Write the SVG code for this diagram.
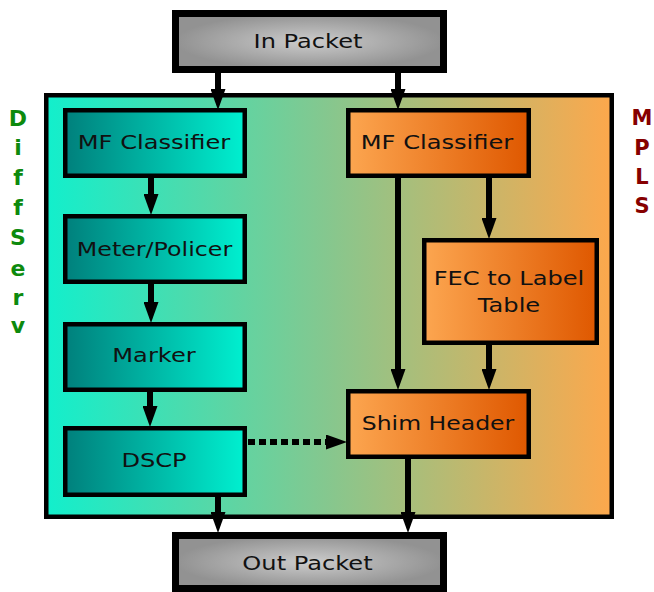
<svg xmlns="http://www.w3.org/2000/svg" width="654" height="592" viewBox="0 0 654 592">
<defs>
<linearGradient id="gBg" x1="0" y1="0" x2="1" y2="0">
<stop offset="0" stop-color="#12efcc"/>
<stop offset="0.5" stop-color="#86c78e"/>
<stop offset="1" stop-color="#fda84c"/>
</linearGradient>
<linearGradient id="gTeal" x1="0" y1="0" x2="1" y2="0">
<stop offset="0" stop-color="#00807c"/>
<stop offset="1" stop-color="#00f0d0"/>
</linearGradient>
<linearGradient id="gOrange" x1="0" y1="0" x2="1" y2="0">
<stop offset="0" stop-color="#fca650"/>
<stop offset="1" stop-color="#df5800"/>
</linearGradient>
<radialGradient id="gGray" cx="0.5" cy="0.5" r="0.5">
<stop offset="0" stop-color="#cccccc"/>
<stop offset="1" stop-color="#929292"/>
</radialGradient>
<marker id="ah" markerUnits="userSpaceOnUse" markerWidth="21" markerHeight="15" refX="0" refY="7.5" orient="auto">
<path d="M0,0 L21,7.5 L0,15 z" fill="#000"/>
</marker>
<style>
.box{stroke:#000;stroke-width:4.5}
.pkt{fill:url(#gGray);stroke:#000;stroke-width:7}
.teal{fill:url(#gTeal)}
.org{fill:url(#gOrange)}
.lbl{font-family:"DejaVu Sans",Verdana,sans-serif;font-size:19px;fill:#111;text-anchor:middle}
.side{font-family:"DejaVu Sans",Verdana,sans-serif;font-weight:bold;text-anchor:middle}
.ds{font-size:22px;fill:#0d8a0d}
.mp{font-size:21px;fill:#860000}
.c{stroke:#000;stroke-width:6;fill:none;marker-end:url(#ah)}
.dot{stroke-dasharray:7 4}
</style>
</defs>
<rect x="0" y="0" width="654" height="592" fill="#fff"/>
<g id="container">
<rect x="46.25" y="95.25" width="565.5" height="421.5" fill="url(#gBg)" stroke="#000" stroke-width="4.5"/>
</g>
<g id="in-packet">
<rect class="pkt" x="175.5" y="13.5" width="268" height="56"/>
<text class="lbl" transform="translate(308,48) scale(1.27,1)">In Packet</text>
</g>
<g id="out-packet">
<rect class="pkt" x="175.5" y="535.5" width="268" height="53"/>
<text class="lbl" transform="translate(307.5,570) scale(1.27,1)">Out Packet</text>
</g>
<g id="ds-mf">
<rect class="box teal" x="65.25" y="110.25" width="179.5" height="65.5"/>
<text class="lbl" transform="translate(154,149) scale(1.27,1)">MF Classifier</text>
</g>
<g id="ds-meter">
<rect class="box teal" x="65.25" y="216.25" width="179.5" height="65.5"/>
<text class="lbl" transform="translate(154.5,256) scale(1.25,1)">Meter/Policer</text>
</g>
<g id="ds-marker">
<rect class="box teal" x="65.25" y="324.25" width="179.5" height="65.5"/>
<text class="lbl" transform="translate(154,362) scale(1.27,1)">Marker</text>
</g>
<g id="ds-dscp">
<rect class="box teal" x="65.25" y="428.25" width="179.5" height="66.5"/>
<text class="lbl" transform="translate(154,467) scale(1.27,1)">DSCP</text>
</g>
<g id="mpls-mf">
<rect class="box org" x="348.25" y="110.25" width="180.5" height="65.5"/>
<text class="lbl" transform="translate(437,149) scale(1.27,1)">MF Classifier</text>
</g>
<g id="mpls-fec">
<rect class="box org" x="424.25" y="240.25" width="172.5" height="102.5"/>
<text class="lbl" transform="translate(509,285) scale(1.27,1)">FEC to Label</text>
<text class="lbl" transform="translate(509,312) scale(1.27,1)">Table</text>
</g>
<g id="mpls-shim">
<rect class="box org" x="348.25" y="391.25" width="180.5" height="65.5"/>
<text class="lbl" transform="translate(438,430) scale(1.24,1)">Shim Header</text>
</g>
<g id="connectors">
<line class="c" x1="218" y1="73" x2="218" y2="89"/>
<line class="c" x1="398" y1="73" x2="398" y2="89"/>
<line class="c" x1="151" y1="178" x2="151" y2="194"/>
<line class="c" x1="151" y1="284" x2="151" y2="302"/>
<line class="c" x1="150" y1="392" x2="150" y2="406"/>
<line class="c" x1="218" y1="497" x2="218" y2="512"/>
<line class="c" x1="398" y1="178" x2="398" y2="369"/>
<line class="c" x1="489" y1="178" x2="489" y2="218"/>
<line class="c" x1="489" y1="345" x2="489" y2="369"/>
<line class="c" x1="408" y1="459" x2="408" y2="512"/>
<line class="c dot" x1="248" y1="442" x2="326" y2="442"/>
</g>
<g id="diffserv-label" class="side ds">
<text x="18" y="126">D</text>
<text x="18" y="155">i</text>
<text x="18" y="185">f</text>
<text x="18" y="215">f</text>
<text x="18" y="245">S</text>
<text x="18" y="276">e</text>
<text x="18" y="305">r</text>
<text x="18" y="333">v</text>
</g>
<g id="mpls-label" class="side mp">
<text x="642" y="125">M</text>
<text x="642" y="155">P</text>
<text x="642" y="184">L</text>
<text x="642" y="213">S</text>
</g>
</svg>
